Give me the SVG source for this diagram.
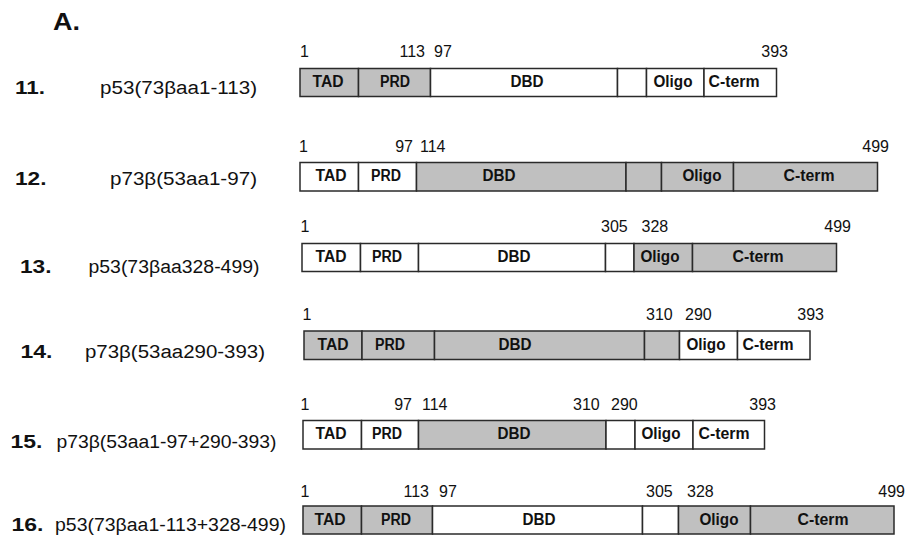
<svg xmlns="http://www.w3.org/2000/svg" width="906" height="537" viewBox="0 0 906 537">
<style>
  text { font-family: "Liberation Sans", Arial, sans-serif; fill: #111; }
  .hd { font-size: 23px; font-weight: bold; }
  .no { font-size: 19px; font-weight: bold; }
  .nm { font-size: 18px; }
  .num { font-size: 16px; }
  .lb { font-size: 16px; font-weight: bold; text-anchor: middle; }
  .g { fill: #c0c0c0; stroke: #2a2a2a; stroke-width: 1.5; }
  .w { fill: #ffffff; stroke: #2a2a2a; stroke-width: 1.5; }
  .e { text-anchor: end; }
</style>
<defs>
  <text id="tad" class="lb" textLength="31" lengthAdjust="spacingAndGlyphs">TAD</text>
</defs>
<rect x="0" y="0" width="906" height="537" fill="#ffffff"/>
<text class="hd" x="53" y="30" textLength="27" lengthAdjust="spacingAndGlyphs">A.</text>

<g id="row11">
  <text class="no" x="15" y="94" textLength="30" lengthAdjust="spacingAndGlyphs">11.</text>
  <text class="nm" x="100" y="93.5" textLength="157" lengthAdjust="spacingAndGlyphs">p53(73βaa1-113)</text>
  <rect class="g" x="300" y="68.5" width="58.5" height="28"/>
  <rect class="g" x="358.5" y="68.5" width="72" height="28"/>
  <rect class="w" x="430.5" y="68.5" width="187" height="28"/>
  <rect class="w" x="617.5" y="68.5" width="29" height="28"/>
  <rect class="w" x="646.5" y="68.5" width="57.5" height="28"/>
  <rect class="w" x="704" y="68.5" width="72.5" height="28"/>
  <text class="lb" x="328" y="87" textLength="31" lengthAdjust="spacingAndGlyphs">TAD</text>
  <text class="lb" x="395" y="87" textLength="30" lengthAdjust="spacingAndGlyphs">PRD</text>
  <text class="lb" x="527" y="87" textLength="33" lengthAdjust="spacingAndGlyphs">DBD</text>
  <text class="lb" x="673" y="87" textLength="39" lengthAdjust="spacingAndGlyphs">Oligo</text>
  <text class="lb" x="734" y="87" textLength="51" lengthAdjust="spacingAndGlyphs">C-term</text>
  <text class="num" x="300" y="57.3">1</text>
  <text class="num e" x="425" y="57.3">113</text>
  <text class="num" x="434" y="57.3">97</text>
  <text class="num e" x="788" y="57.3">393</text>
</g>

<g id="row12">
  <text class="no" x="15" y="185" textLength="31.5" lengthAdjust="spacingAndGlyphs">12.</text>
  <text class="nm" x="110" y="185" textLength="147" lengthAdjust="spacingAndGlyphs">p73β(53aa1-97)</text>
  <rect class="w" x="300" y="162.5" width="58.5" height="28.5"/>
  <rect class="w" x="358.5" y="162.5" width="58" height="28.5"/>
  <rect class="g" x="416.5" y="162.5" width="209.5" height="28.5"/>
  <rect class="g" x="626" y="162.5" width="35.5" height="28.5"/>
  <rect class="g" x="661.5" y="162.5" width="72" height="28.5"/>
  <rect class="g" x="733.5" y="162.5" width="144" height="28.5"/>
  <text class="lb" x="331" y="181" textLength="31" lengthAdjust="spacingAndGlyphs">TAD</text>
  <text class="lb" x="386" y="181" textLength="30" lengthAdjust="spacingAndGlyphs">PRD</text>
  <text class="lb" x="499" y="181" textLength="33" lengthAdjust="spacingAndGlyphs">DBD</text>
  <text class="lb" x="702" y="181" textLength="39" lengthAdjust="spacingAndGlyphs">Oligo</text>
  <text class="lb" x="809" y="181" textLength="51" lengthAdjust="spacingAndGlyphs">C-term</text>
  <text class="num" x="299" y="151.7">1</text>
  <text class="num e" x="413" y="151.7">97</text>
  <text class="num" x="420" y="151.7">114</text>
  <text class="num e" x="889" y="151.7">499</text>
</g>

<g id="row13">
  <text class="no" x="20" y="272.5" textLength="31.5" lengthAdjust="spacingAndGlyphs">13.</text>
  <text class="nm" x="88.5" y="272.5" textLength="171" lengthAdjust="spacingAndGlyphs">p53(73βaa328-499)</text>
  <rect class="w" x="302" y="243.5" width="58.5" height="28"/>
  <rect class="w" x="360.5" y="243.5" width="58" height="28"/>
  <rect class="w" x="418.5" y="243.5" width="187" height="28"/>
  <rect class="w" x="605.5" y="243.5" width="28.5" height="28"/>
  <rect class="g" x="634" y="243.5" width="58.5" height="28"/>
  <rect class="g" x="692.5" y="243.5" width="144" height="28"/>
  <text class="lb" x="331" y="262" textLength="31" lengthAdjust="spacingAndGlyphs">TAD</text>
  <text class="lb" x="387" y="262" textLength="30" lengthAdjust="spacingAndGlyphs">PRD</text>
  <text class="lb" x="514" y="262" textLength="33" lengthAdjust="spacingAndGlyphs">DBD</text>
  <text class="lb" x="660" y="262" textLength="39" lengthAdjust="spacingAndGlyphs">Oligo</text>
  <text class="lb" x="758" y="262" textLength="51" lengthAdjust="spacingAndGlyphs">C-term</text>
  <text class="num" x="300.5" y="231.7">1</text>
  <text class="num" x="601" y="231.7">305</text>
  <text class="num" x="641.5" y="231.7">328</text>
  <text class="num e" x="851" y="231.7">499</text>
</g>

<g id="row14">
  <text class="no" x="20.5" y="358.3" textLength="32" lengthAdjust="spacingAndGlyphs">14.</text>
  <text class="nm" x="85" y="358.3" textLength="180" lengthAdjust="spacingAndGlyphs">p73β(53aa290-393)</text>
  <rect class="g" x="304" y="331" width="58" height="28.5"/>
  <rect class="g" x="362" y="331" width="72.5" height="28.5"/>
  <rect class="g" x="434.5" y="331" width="210" height="28.5"/>
  <rect class="g" x="644.5" y="331" width="35" height="28.5"/>
  <rect class="w" x="679.5" y="331" width="58" height="28.5"/>
  <rect class="w" x="737.5" y="331" width="72.5" height="28.5"/>
  <text class="lb" x="333" y="349.5" textLength="31" lengthAdjust="spacingAndGlyphs">TAD</text>
  <text class="lb" x="390" y="349.5" textLength="30" lengthAdjust="spacingAndGlyphs">PRD</text>
  <text class="lb" x="515" y="349.5" textLength="33" lengthAdjust="spacingAndGlyphs">DBD</text>
  <text class="lb" x="706" y="349.5" textLength="39" lengthAdjust="spacingAndGlyphs">Oligo</text>
  <text class="lb" x="768" y="349.5" textLength="51" lengthAdjust="spacingAndGlyphs">C-term</text>
  <text class="num" x="302.5" y="320">1</text>
  <text class="num" x="646" y="320">310</text>
  <text class="num" x="685" y="320">290</text>
  <text class="num e" x="824" y="320">393</text>
</g>

<g id="row15">
  <text class="no" x="10.5" y="448.3" textLength="32" lengthAdjust="spacingAndGlyphs">15.</text>
  <text class="nm" x="56.5" y="448.3" textLength="220" lengthAdjust="spacingAndGlyphs">p73β(53aa1-97+290-393)</text>
  <rect class="w" x="303" y="420.5" width="58.5" height="28.5"/>
  <rect class="w" x="361.5" y="420.5" width="57" height="28.5"/>
  <rect class="g" x="418.5" y="420.5" width="187.5" height="28.5"/>
  <rect class="w" x="606" y="420.5" width="29" height="28.5"/>
  <rect class="w" x="635" y="420.5" width="58" height="28.5"/>
  <rect class="w" x="693" y="420.5" width="71.5" height="28.5"/>
  <text class="lb" x="331" y="439" textLength="31" lengthAdjust="spacingAndGlyphs">TAD</text>
  <text class="lb" x="387" y="439" textLength="30" lengthAdjust="spacingAndGlyphs">PRD</text>
  <text class="lb" x="514" y="439" textLength="33" lengthAdjust="spacingAndGlyphs">DBD</text>
  <text class="lb" x="661" y="439" textLength="39" lengthAdjust="spacingAndGlyphs">Oligo</text>
  <text class="lb" x="724" y="439" textLength="51" lengthAdjust="spacingAndGlyphs">C-term</text>
  <text class="num" x="300.5" y="409.5">1</text>
  <text class="num e" x="412" y="409.5">97</text>
  <text class="num" x="422" y="409.5">114</text>
  <text class="num" x="573" y="409.5">310</text>
  <text class="num" x="611" y="409.5">290</text>
  <text class="num e" x="776" y="409.5">393</text>
</g>

<g id="row16">
  <text class="no" x="11.5" y="530.7" textLength="32" lengthAdjust="spacingAndGlyphs">16.</text>
  <text class="nm" x="55" y="530.7" textLength="231" lengthAdjust="spacingAndGlyphs">p53(73βaa1-113+328-499)</text>
  <rect class="g" x="303" y="506" width="58.5" height="28"/>
  <rect class="g" x="361.5" y="506" width="71" height="28"/>
  <rect class="w" x="432.5" y="506" width="210" height="28"/>
  <rect class="w" x="642.5" y="506" width="36" height="28"/>
  <rect class="g" x="678.5" y="506" width="72" height="28"/>
  <rect class="g" x="750.5" y="506" width="143.5" height="28"/>
  <text class="lb" x="330" y="524.5" textLength="31" lengthAdjust="spacingAndGlyphs">TAD</text>
  <text class="lb" x="396" y="524.5" textLength="30" lengthAdjust="spacingAndGlyphs">PRD</text>
  <text class="lb" x="539" y="524.5" textLength="33" lengthAdjust="spacingAndGlyphs">DBD</text>
  <text class="lb" x="719" y="524.5" textLength="39" lengthAdjust="spacingAndGlyphs">Oligo</text>
  <text class="lb" x="823" y="524.5" textLength="51" lengthAdjust="spacingAndGlyphs">C-term</text>
  <text class="num" x="300.5" y="496.7">1</text>
  <text class="num e" x="429" y="496.7">113</text>
  <text class="num" x="439" y="496.7">97</text>
  <text class="num" x="646" y="496.7">305</text>
  <text class="num" x="687" y="496.7">328</text>
  <text class="num e" x="905" y="496.7">499</text>
</g>
</svg>
